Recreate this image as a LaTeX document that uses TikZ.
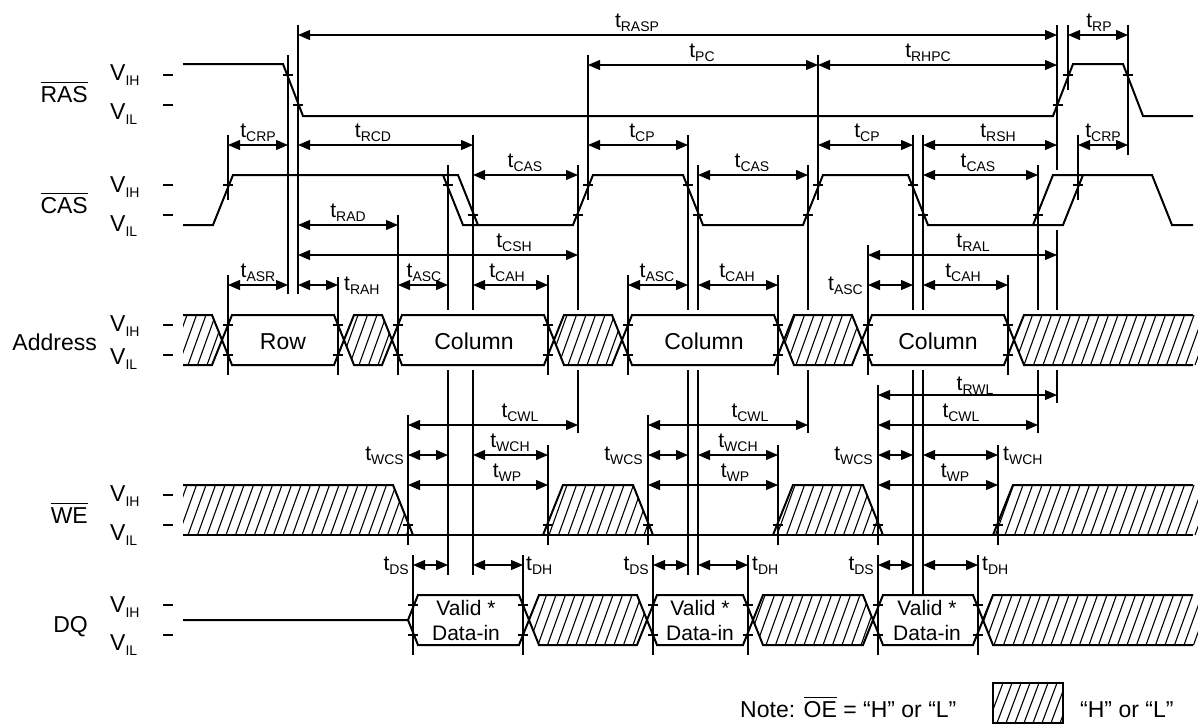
\documentclass[tikz,border=0pt]{standalone}
\usepackage{fontspec}
\setmainfont{Liberation Sans}
\usetikzlibrary{arrows.meta}

% timing label: t with lowered subscript
\newcommand{\tlab}[1]{{\fontsize{21}{21}\selectfont t}\raisebox{-4pt}{\fontsize{14}{14}\selectfont #1}}
% level label: V with lowered subscript
\newcommand{\vlab}[1]{{\fontsize{23}{23}\selectfont V}\raisebox{-5pt}{\fontsize{14}{14}\selectfont #1}}
% active-low bar over a signal name
\newcommand{\ovl}[1]{\vbox{\hrule height 1.3pt\kern 3pt\hbox{#1}}}

\tikzset{
  sig/.style={line width=2pt},
  guide/.style={line width=1.1pt},
  dimarrow/.style={line width=1.1pt, {Triangle[length=12pt,width=10pt]}-{Triangle[length=12pt,width=10pt]}},
  hatchline/.style={line width=1.1pt},
  lab/.style={inner sep=0pt, anchor=base},
  sname/.style={inner sep=0pt, anchor=base east, font=\fontsize{23}{26}\selectfont},
  bigtext/.style={inner sep=0pt, anchor=base, font=\fontsize{23}{26}\selectfont},
  datatext/.style={inner sep=0pt, anchor=base, font=\fontsize{21}{24}\selectfont},
}

\begin{document}
\begin{tikzpicture}[x=1pt, y=-1pt]
  \useasboundingbox (0,0) rectangle (1198,724);

  % Signal names
  \node[sname] (ras) at (88,102) {\ovl{RAS}};
  \node[sname] (cas) at (88,213) {\ovl{CAS}};
  \node[sname] (addr) at (97,350) {Address};
  \node[sname] (we) at (88,523) {\ovl{WE}};
  \node[sname] (dq) at (88,632) {DQ};

  % Level labels and marks
  \foreach \yy/\s [count=\i] in {80/IH,119/IL,192/IH,231/IL,331/IH,364/IL,501/IH,540/IL,612/IH,650/IL}
    \node[inner sep=0pt, anchor=base west] (v\i) at (110,\yy) {\vlab{\s}};
  \foreach \yy in {75,105,185,215,325,355,495,525,605,635}
    \draw[line width=1.3pt] (163,\yy) -- (173,\yy);

  % Hatched "H or L" areas
  \begin{scope}
    \clip (183,315) -- (212,315) -- (222,340) -- (212,365) -- (183,365) -- cycle
          (344,340) -- (354,315) -- (382,315) -- (392,340) -- (382,365) -- (354,365) -- cycle
          (554,340) -- (564,315) -- (612,315) -- (622,340) -- (612,365) -- (564,365) -- cycle
          (784,340) -- (794,315) -- (852,315) -- (862,340) -- (852,365) -- (794,365) -- cycle
          (1014,340) -- (1024,315) -- (1198,315) -- (1198,365) -- (1024,365) -- cycle;
    \foreach \hx in {150,159.5,...,1200}
      \draw[hatchline] (\hx,365) -- ++(18,-50);
  \end{scope}
  \begin{scope}
    \clip (183,535) -- (183,485) -- (393,485) -- (413,535) -- cycle
          (543,535) -- (563,485) -- (633,485) -- (653,535) -- cycle
          (773,535) -- (793,485) -- (863,485) -- (883,535) -- cycle
          (993,535) -- (1013,485) -- (1198,485) -- (1198,535) -- cycle;
    \foreach \hx in {150,159.5,...,1200}
      \draw[hatchline] (\hx,535) -- ++(18,-50);
  \end{scope}
  \begin{scope}
    \clip (529,620) -- (539,595) -- (637,595) -- (647,620) -- (637,645) -- (539,645) -- cycle
          (753,620) -- (763,595) -- (863,595) -- (873,620) -- (863,645) -- (763,645) -- cycle
          (983,620) -- (993,595) -- (1198,595) -- (1198,645) -- (993,645) -- cycle;
    \foreach \hx in {500,509.5,...,1200}
      \draw[hatchline] (\hx,645) -- ++(18,-50);
  \end{scope}

  % RAS
  \draw[sig] (183,64) -- (283,64) -- (303,116) -- (1053,116) -- (1073,64) -- (1123,64) -- (1143,116) -- (1193,116);

  % CAS (double edges where the timing may vary)
  \draw[sig] (183,225) -- (213,225) -- (233,175) -- (458,175) -- (478,225) -- (573,225) -- (593,175)
    -- (683,175) -- (703,225) -- (803,225) -- (823,175) -- (908,175) -- (928,225) -- (1063,225)
    -- (1083,175) -- (1152,175) -- (1172,225) -- (1193,225);
  \draw[sig] (443,175) -- (463,225) -- (478,225);
  \draw[sig] (1033,225) -- (1053,175) -- (1083,175);

  % Address
  \draw[sig] (183,315) -- (212,315) -- (232,365) -- (334,365) -- (354,315) -- (382,315) -- (402,365)
    -- (544,365) -- (564,315) -- (612,315) -- (632,365) -- (774,365) -- (794,315) -- (852,315)
    -- (872,365) -- (1004,365) -- (1024,315) -- (1193,315);
  \draw[sig] (183,365) -- (212,365) -- (232,315) -- (334,315) -- (354,365) -- (382,365) -- (402,315)
    -- (544,315) -- (564,365) -- (612,365) -- (632,315) -- (774,315) -- (794,365) -- (852,365)
    -- (872,315) -- (1004,315) -- (1024,365) -- (1193,365);
  \node[bigtext] (row) at (283,349) {Row};
  \node[bigtext] (col1) at (474,349) {Column};
  \node[bigtext] (col2) at (704,349) {Column};
  \node[bigtext] (col3) at (938,349) {Column};

  % WE
  \draw[sig] (183,535) -- (1193,535);
  \draw[sig] (183,485) -- (393,485) -- (413,535);
  \draw[sig] (543,535) -- (563,485) -- (633,485) -- (653,535);
  \draw[sig] (773,535) -- (793,485) -- (863,485) -- (883,535);
  \draw[sig] (993,535) -- (1013,485) -- (1193,485);

  % DQ
  \draw[sig] (183,620) -- (408,620) -- (418,595) -- (519,595) -- (539,645) -- (637,645) -- (657,595)
    -- (743,595) -- (763,645) -- (863,645) -- (883,595) -- (973,595) -- (993,645) -- (1193,645);
  \draw[sig] (408,620) -- (418,645) -- (519,645) -- (539,595) -- (637,595) -- (657,645)
    -- (743,645) -- (763,595) -- (863,595) -- (883,645) -- (973,645) -- (993,595) -- (1193,595);
  \foreach \cx [count=\i] in {466,700,927}{
    \node[datatext] (valid\i) at (\cx,615) {Valid *};
    \node[datatext] (datain\i) at (\cx,640) {Data-in};
  }

  % Reference lines
  \foreach \x/\ya/\yb in {228/135/200, 228/275/375, 288/55/294, 298/25/294, 338/277/375, 398/215/375,
      448/165/310, 448/370/575, 473/135/310, 473/370/575, 578/165/310, 578/370/433, 588/55/200,
      628/275/375, 688/135/310, 688/370/575, 698/165/310, 698/370/575, 808/165/310, 808/370/433,
      818/55/200, 868/245/375, 913/135/310, 913/370/594, 923/135/310, 923/370/594, 1008/275/375,
      1038/165/310, 1038/370/433, 1057/25/170, 1057/230/310, 1057/370/403, 1068/25/90,
      1078/135/200, 1128/25/155, 408/415/545, 548/275/375, 548/445/545, 648/415/545,
      778/275/375, 778/445/545, 878/385/545, 998/445/545, 413/555/655, 523/555/655,
      653/555/655, 748/555/655, 878/555/655, 978/555/655}
    \draw[guide] (\x,\ya) -- (\x,\yb);

  % Threshold crossing marks
  \foreach \x/\yy in {288/75, 298/105, 1058/105, 1068/75, 1128/75,
      228/185, 448/185, 473/215, 578/215, 588/185, 688/185, 698/215, 808/215, 818/185,
      913/185, 923/215, 1038/215, 1078/185,
      228/325, 338/325, 398/325, 548/325, 628/325, 778/325, 868/325, 1008/325,
      228/355, 338/355, 398/355, 548/355, 628/355, 778/355, 868/355, 1008/355,
      408/525, 548/525, 648/525, 778/525, 878/525, 998/525,
      413/605, 523/605, 653/605, 748/605, 878/605, 978/605,
      413/635, 523/635, 653/635, 748/635, 878/635, 978/635}
    \draw[guide] (\x,\yy) ++(-5,0) -- ++(10,0);

  % Timing parameters, label above
  \foreach \xa/\xb/\yy/\lx/\s in {298/1057/35/637/RASP, 1068/1128/35/1099/RP,
      588/818/65/702/PC, 818/1057/65/928/RHPC,
      228/288/145/258/CRP, 298/473/145/373/RCD, 588/688/145/642/CP, 818/913/145/867/CP,
      923/1057/145/998/RSH, 1078/1128/145/1103/CRP,
      473/578/175/525/CAS, 698/808/175/752/CAS, 923/1038/175/978/CAS,
      298/398/225/348/RAD, 298/578/255/514/CSH, 868/1057/255/973/RAL,
      228/288/285/258/ASR, 398/448/285/424/ASC, 473/548/285/507/CAH, 628/688/285/657/ASC,
      698/778/285/737/CAH, 923/1008/285/963/CAH,
      408/578/425/520/CWL, 648/808/425/750/CWL, 878/1038/425/961/CWL,
      473/548/455/510/WCH, 698/778/455/738/WCH,
      408/548/485/507/WP, 648/778/485/735/WP, 878/998/485/955/WP}{
    \draw[dimarrow] (\xa,\yy) -- (\xb,\yy);
    \node[lab] (t\s\xa) at (\lx,\yy-8) {\tlab{\s}};
  }
  \draw[dimarrow] (878,395) -- (1057,395);
  \node[lab] (tRWL878) at (975,390) {\tlab{RWL}};

  % Timing parameters, label beside
  \foreach \xa/\xb/\yy/\lx/\an/\s in {298/338/285/344/west/RAH, 868/913/285/863/east/ASC,
      408/448/455/404/east/WCS, 648/688/455/643/east/WCS, 878/913/455/873/east/WCS,
      923/998/455/1003/west/WCH,
      413/448/565/409/east/DS, 473/523/565/526/west/DH, 653/688/565/649/east/DS,
      698/748/565/752/west/DH, 878/913/565/874/east/DS, 923/978/565/982/west/DH}{
    \draw[dimarrow] (\xa,\yy) -- (\xb,\yy);
    \node[inner sep=0pt, anchor=base \an] (t\s\xa) at (\lx,\yy+5) {\tlab{\s}};
  }

  % Legend
  \node[inner sep=0pt, anchor=base west, font=\fontsize{23}{26}\selectfont] (note) at (740,717)
    {Note: \ovl{OE} = “H” or “L”};
  \begin{scope}
    \clip (993,683) rectangle (1063,723);
    \foreach \hx in {970,979,...,1070}
      \draw[hatchline] (\hx,723) -- ++(15,-40);
  \end{scope}
  \draw[sig] (993,683) rectangle (1063,723);
  \node[inner sep=0pt, anchor=base west, font=\fontsize{23}{26}\selectfont] (hl) at (1080,717) {“H” or “L”};
\end{tikzpicture}
\end{document}
